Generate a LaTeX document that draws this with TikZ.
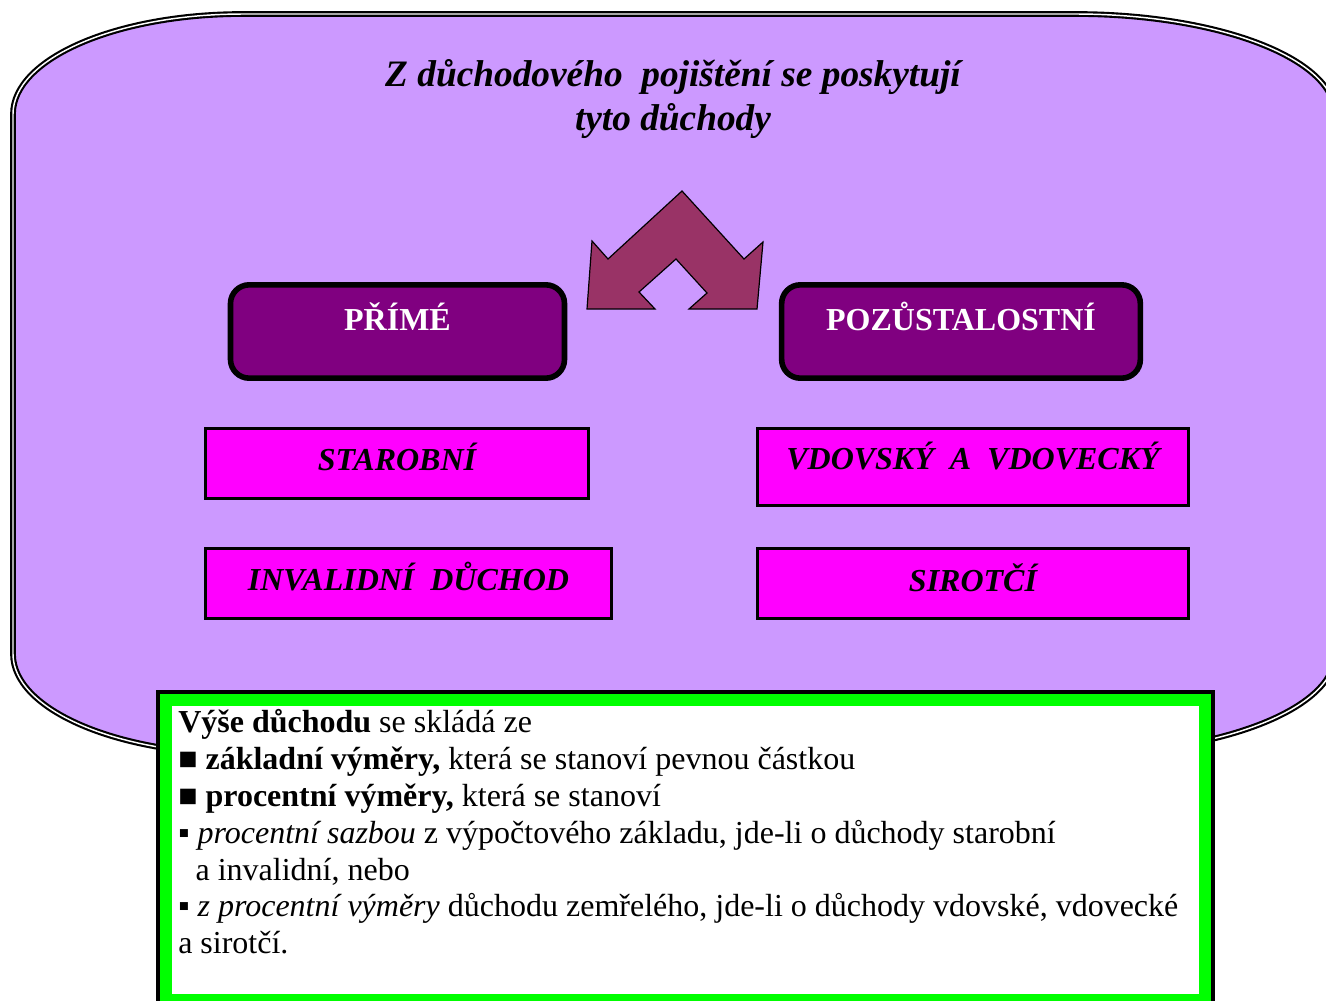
\documentclass[tikz,border=0pt]{standalone}
\usepackage{fontspec}
\setmainfont{Liberation Serif}
\definecolor{lilac}{HTML}{CC99FF}
\definecolor{plum}{HTML}{800080}
\definecolor{wine}{HTML}{993366}
\definecolor{pink}{HTML}{FF00FF}
\definecolor{brightgreen}{HTML}{00FF00}

\begin{document}
\begin{tikzpicture}[x=0.75pt,y=-0.75pt]
\tikzset{outline/.style = {draw,fill=lilac,line width=1.6pt,double=white,double distance=1.1pt}}
\tikzset{kind/.style = {shape=rectangle,draw,fill=plum,line width=4.2pt,rounded corners=14pt,inner sep=0pt,minimum height=70pt,text=white,font=\fontsize{24}{28}\selectfont\bfseries,text height=16pt,text depth=18pt}}
\tikzset{pension/.style = {shape=rectangle,draw,fill=pink,line width=2.25pt,inner sep=0pt,font=\fontsize{24}{28}\selectfont\bfseries\itshape,text height=16pt}}
\tikzset{note/.style = {shape=rectangle,draw=brightgreen,fill=white,line width=9pt,preaction={draw=black,line width=15pt},minimum width=779.25pt,minimum height=225pt}}

\useasboundingbox (0,0) rectangle (1326,1000);
\clip (0,0) rectangle (1326,1000);

% the big rounded panel
\draw[outline] (13,114) arc[start angle=180,end angle=270,x radius=230,y radius=100]
  -- (1075,14) arc[start angle=270,end angle=360,x radius=260,y radius=100]
  -- (1335,654) arc[start angle=0,end angle=90,x radius=260,y radius=100]
  -- (243,754) arc[start angle=90,end angle=180,x radius=230,y radius=100] -- cycle;

\node[font=\fontsize{28}{33}\selectfont\bfseries\itshape,align=center] (title) at (673,99)
  {Z důchodového\ \ pojištění se poskytují\\tyto důchody};

% double arrow
\draw[fill=wine,line width=0.9pt,line join=miter] (682,191) -- (744,259) -- (763,242) -- (757,309)
  -- (689,309) -- (707,293) -- (676,259) -- (639,292) -- (655,309) -- (587,309)
  -- (592,241) -- (608,259) -- cycle;

\node[kind,minimum width=250.5pt] (direct) at (397.5,331.5) {PŘÍMÉ};
\node[kind,minimum width=269pt] (survivor) at (961,331.5) {POZŮSTALOSTNÍ};

\foreach \pos/\name/\bw/\bh/\td/\txt in {{(397,463.5)/old/287pt/52.5pt/5.2pt/STAROBNÍ}, {(973,467)/widow/323pt/57.75pt/12pt/VDOVSKÝ\ \ A\ \ VDOVECKÝ}, {(408.5,583.5)/invalid/304.5pt/52.5pt/5.2pt/INVALIDNÍ\ \ DŮCHOD}, {(973,583.5)/orphan/323pt/52.5pt/3.8pt/SIROTČÍ}}
\node[pension,minimum width=\bw,minimum height=\bh,text depth=\td] (\name) at \pos {\txt};

\node[note] (amount) at (685.5,850) {};
\node[anchor=north west,inner sep=0pt,align=left,font=\fontsize{24}{27.6}\selectfont] (amounttext) at (178,709.5)
  {\textbf{Výše důchodu} se skládá ze\\
   \textbf{■ základní výměry,} která se stanoví pevnou částkou\\
   \textbf{■ procentní výměry,} která se stanoví\\
   ▪ \textit{procentní sazbou} z výpočtového základu, jde-li o důchody starobní\\
   \hspace*{13pt}a invalidní, nebo\\
   ▪ \textit{z procentní výměry} důchodu zemřelého, jde-li o důchody vdovské, vdovecké\\
   a sirotčí.};
\end{tikzpicture}
\end{document}
